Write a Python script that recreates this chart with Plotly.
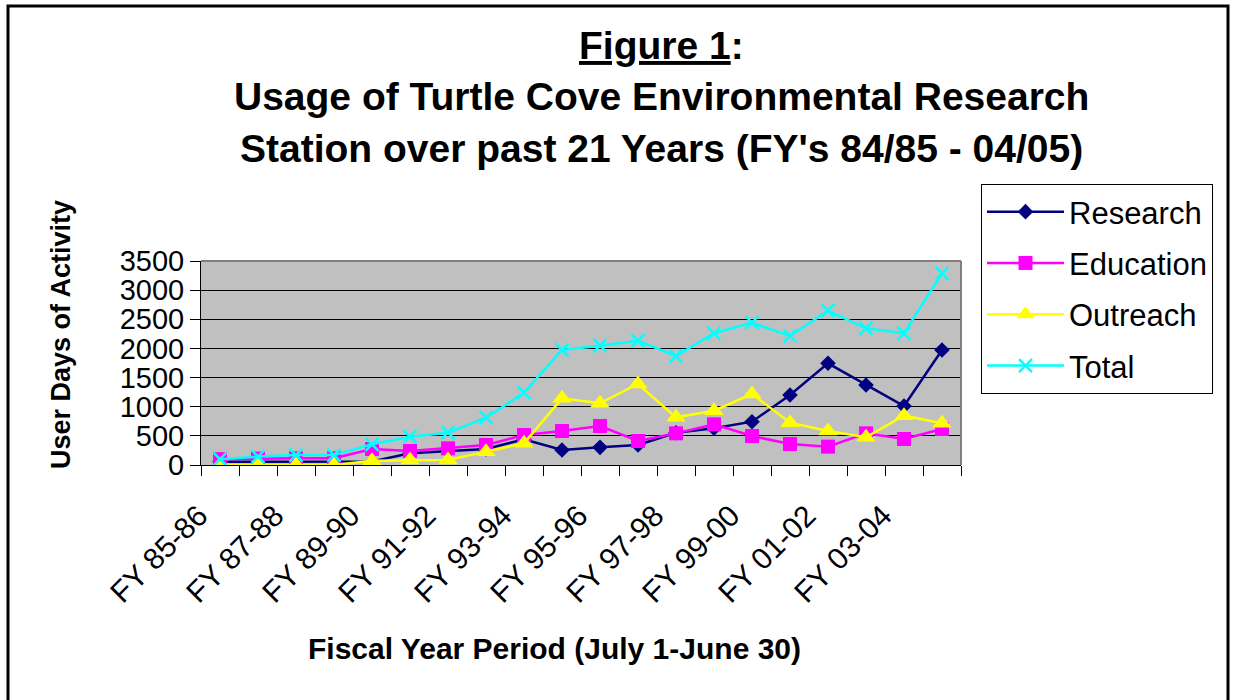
import plotly.graph_objects as go

categories = ["FY 85-86", "FY 86-87", "FY 87-88", "FY 88-89", "FY 89-90",
              "FY 90-91", "FY 91-92", "FY 92-93", "FY 93-94", "FY 94-95",
              "FY 95-96", "FY 96-97", "FY 97-98", "FY 98-99", "FY 99-00",
              "FY 00-01", "FY 01-02", "FY 02-03", "FY 03-04", "FY 04-05"]
shown_labels = ["FY 85-86", "FY 87-88", "FY 89-90", "FY 91-92", "FY 93-94",
                "FY 95-96", "FY 97-98", "FY 99-00", "FY 01-02", "FY 03-04"]

research = [55, 55, 60, 60, 60, 200, 240, 275, 440, 257,
            303, 343, 554, 630, 743, 1201, 1745, 1373, 1012, 1973]
education = [100, 110, 115, 115, 275, 240, 286, 343, 515, 583,
             669, 412, 543, 698, 497, 360, 315, 543, 446, 618]
outreach = [0, 0, 0, 0, 74, 86, 86, 229, 372, 1144,
            1058, 1390, 818, 932, 1218, 726, 583, 475, 846, 715]
total = [100, 145, 170, 170, 355, 486, 554, 812, 1241, 1973,
         2047, 2133, 1870, 2260, 2442, 2214, 2648, 2346, 2260, 3289]

y_ticks = [0, 500, 1000, 1500, 2000, 2500, 3000, 3500]

W, H = 1233, 700
L, R, T, B = 201, 961, 261, 465
FONT = "Liberation Sans, Arial, sans-serif"


def px(x):
    return (x - L) / (R - L)


def py(y):
    return (B - y) / (B - T)


fig = go.Figure()
series = [
    ("Research", research, "#000080", "diamond", 12, None),
    ("Education", education, "#FF00FF", "square", 14, None),
    ("Outreach", outreach, "#FFFF00", "triangle-up", 17, None),
    ("Total", total, "#00FFFF", "x-thin", 13, 2.5),
]
for name, vals, col, sym, size, mlw in series:
    marker = dict(symbol=sym, size=size, color=col)
    if mlw:
        marker["line"] = dict(color=col, width=mlw)
    else:
        marker["line"] = dict(width=0)
    fig.add_trace(go.Scatter(
        x=categories, y=vals, name=name, mode="lines+markers",
        line=dict(color=col, width=2.5), marker=marker,
        legendgroup=name,
    ))

ticktext = [c if c in shown_labels else "" for c in categories]

fig.update_layout(
    width=W, height=H,
    margin=dict(l=L, r=W - R, t=T, b=H - B, pad=0),
    paper_bgcolor="white",
    plot_bgcolor="#C0C0C0",
    font=dict(family=FONT, color="black"),
    showlegend=True,
    legend=dict(
        x=px(981), y=py(184), xanchor="left", yanchor="top",
        bordercolor="black", borderwidth=1, bgcolor="white",
        font=dict(size=31, family=FONT), tracegroupgap=8,
        itemwidth=77,
    ),
    xaxis=dict(
        type="category", categoryorder="array", categoryarray=categories,
        range=[-0.5, len(categories) - 0.5],
        tickmode="array", tickvals=categories, ticktext=ticktext,
        tickson="boundaries", ticks="outside", ticklen=10, tickwidth=1,
        tickcolor="black", tickangle=-45,
        tickfont=dict(size=30, family=FONT),
        showline=True, linecolor="black", linewidth=1,
        showgrid=False, zeroline=False,
        ticklabelstandoff=20, ticklabelshift=-21,
    ),
    yaxis=dict(
        range=[0, 3500], tickmode="array", tickvals=y_ticks,
        ticks="outside", ticklen=10, tickwidth=1, tickcolor="black",
        tickfont=dict(size=29, family=FONT),
        showline=True, linecolor="black", linewidth=1,
        showgrid=True, gridcolor="black", gridwidth=1,
        zeroline=False, ticklabelstandoff=0,
    ),
)

# gray top/right plot border
fig.add_shape(type="line", xref="paper", yref="paper", x0=0, x1=1, y0=1, y1=1,
              line=dict(color="#808080", width=2))
fig.add_shape(type="line", xref="paper", yref="paper", x0=1, x1=1, y0=0, y1=1,
              line=dict(color="#808080", width=2))
# outer chart border
fig.add_shape(type="rect", xref="paper", yref="paper",
              x0=px(8), x1=px(1228), y0=py(706), y1=py(6),
              line=dict(color="black", width=3), layer="above")

title_lines = [
    ("<b><u>Figure 1</u>:</b>", 45),
    ("<b>Usage of Turtle Cove Environmental Research</b>", 96),
    ("<b>Station over past 21 Years (FY's 84/85 - 04/05)</b>", 148),
]
for txt, yy in title_lines:
    fig.add_annotation(text=txt, xref="paper", yref="paper", x=px(661), y=py(yy),
                       xanchor="center", yanchor="middle", showarrow=False,
                       font=dict(size=39, family=FONT, color="black"))

fig.add_annotation(text="<b>User Days of Activity</b>", xref="paper", yref="paper",
                   x=px(61), y=py(335), xanchor="center", yanchor="middle",
                   textangle=-90, showarrow=False,
                   font=dict(size=27, family=FONT, color="black"))
fig.add_annotation(text="<b>Fiscal Year Period (July 1-June 30)</b>", xref="paper",
                   yref="paper", x=px(554), y=py(648), xanchor="center",
                   yanchor="middle", showarrow=False,
                   font=dict(size=30, family=FONT, color="black"))

fig.write_html("out.html", config={"displayModeBar": False},
               post_script="document.body.style.margin='0';document.body.style.overflow='hidden';")
